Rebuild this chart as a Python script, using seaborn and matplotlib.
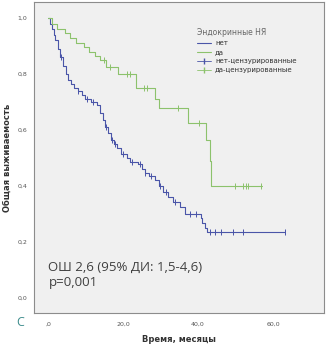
import numpy as np
import pandas as pd
import matplotlib
matplotlib.use("Agg")
import matplotlib.pyplot as plt
import seaborn as sns
from matplotlib.lines import Line2D

# ---- data ----
group_labels = ["нет", "да"]
no_times = [0, 0.5, 1, 1.5, 2, 2.7, 3.3, 4, 4.7, 5.3, 6.2, 7, 8, 9, 10, 11.5, 13, 13.9,
            14.6, 15.3, 16, 16.7, 17.5, 18.5, 19.5, 21, 22, 24, 25, 25.8, 27, 28.5, 29.5,
            30.7, 32, 33.3, 35.2, 36.5, 40.8, 41.2, 41.9, 42.4, 63.2]
no_surv = [1.0, 0.98, 0.96, 0.94, 0.92, 0.89, 0.86, 0.83, 0.80, 0.78, 0.765, 0.75, 0.74,
           0.725, 0.71, 0.70, 0.69, 0.66, 0.635, 0.61, 0.59, 0.565, 0.55, 0.535, 0.515,
           0.50, 0.487, 0.478, 0.46, 0.446, 0.435, 0.42, 0.40, 0.38, 0.36, 0.343, 0.325,
           0.30, 0.285, 0.268, 0.25, 0.236, 0.236]
no_cens = [3.5, 8, 10.5, 12, 15.5, 17, 18, 20, 22.5, 24.5, 26, 27.5, 30, 31.5, 34, 38,
           39.5, 43.2, 44.5, 46.1, 49.3, 52, 63.2]

yes_times = [0, 1.2, 2.5, 4.5, 6, 7.5, 9.5, 11, 12.5, 14, 15.5, 18.7, 23.6, 28.6, 29.5,
             37.3, 42.1, 43.2, 43.6, 57]
yes_surv = [1.0, 0.98, 0.96, 0.945, 0.93, 0.91, 0.895, 0.88, 0.865, 0.85, 0.825, 0.80,
            0.75, 0.71, 0.68, 0.625, 0.565, 0.49, 0.40, 0.40]
yes_cens = [15, 16.5, 21, 22, 25.5, 26.5, 34.7, 40.2, 49.9, 52, 52.8, 53.3, 56.8]

x_ticks = [0, 20, 40, 60]
x_tick_labels = [",0", "20,0", "40,0", "60,0"]
y_ticks = [0.0, 0.2, 0.4, 0.6, 0.8, 1.0]
y_tick_labels = ["0,0", "0,2", "0,4", "0,6", "0,8", "1,0"]

colors = {"нет": "#4a55a8", "да": "#8cc26c"}

curves = pd.concat([
    pd.DataFrame({"t": no_times, "s": no_surv, "g": "нет"}),
    pd.DataFrame({"t": yes_times, "s": yes_surv, "g": "да"}),
])

def cens_df(times, st, ss, g):
    st = np.asarray(st); ss = np.asarray(ss)
    idx = np.searchsorted(st, times, side="right") - 1
    return pd.DataFrame({"t": times, "s": ss[idx], "g": g})

cens = pd.concat([cens_df(no_cens, no_times, no_surv, "нет"),
                  cens_df(yes_cens, yes_times, yes_surv, "да")])

# ---- figure ----
sns.set_style("white")
plt.rcParams["font.family"] = ["DejaVu Sans"]
fig = plt.figure(figsize=(3.26, 3.47), dpi=100)
ax = fig.add_axes([34/326, (347-313)/347, 290/326, 311/347])
ax.set_facecolor("#f0f0f0")

for g in group_labels:
    d = curves[curves.g == g]
    sns.lineplot(data=d, x="t", y="s", ax=ax, color=colors[g], lw=0.8,
                 drawstyle="steps-post", estimator=None, sort=False, legend=False)
    c = cens[cens.g == g]
    sns.scatterplot(data=c, x="t", y="s", ax=ax, color=colors[g], marker="|",
                    s=14, linewidth=0.7, legend=False)

ax.set_xlim(-3.73, 73.6)
ax.set_ylim(-0.054, 1.057)
ax.set_xticks(x_ticks)
ax.set_xticklabels(x_tick_labels)
ax.set_yticks(y_ticks)
ax.set_yticklabels(y_tick_labels)
ax.tick_params(axis="both", labelsize=4.5, colors="#555555", length=3, width=0.6,
               direction="out", pad=2)
ax.tick_params(axis="x", length=4)
for sp in ax.spines.values():
    sp.set_color("#8c8c8c")
    sp.set_linewidth(0.8)

ax.set_xlabel("Время, месяцы", fontsize=6, fontweight="bold", color="#333333", labelpad=6)
ax.set_ylabel("Общая выживаемость", fontsize=6, fontweight="bold", color="#333333", labelpad=4)

# legend
handles = [
    Line2D([0], [0], color=colors["нет"], lw=0.8, drawstyle="steps-post"),
    Line2D([0], [0], color=colors["да"], lw=0.8, drawstyle="steps-post"),
    Line2D([0], [0], color=colors["нет"], lw=0.6, marker="|", markersize=4),
    Line2D([0], [0], color=colors["да"], lw=0.6, marker="|", markersize=4),
]
labels = ["нет", "да", "нет-цензурированные", "да-цензурированные"]
leg = ax.legend(handles, labels, title="Эндокринные НЯ", loc="upper left",
                bbox_to_anchor=(0.54, 0.935), frameon=False, fontsize=5.0,
                title_fontsize=5.5, handlelength=2.0, handletextpad=0.6,
                labelspacing=0.42, alignment="left")
leg.get_title().set_color("#666666")
for t in leg.get_texts():
    t.set_color("#333333")

ax.text(0.05, 0.122, "ОШ 2,6 (95% ДИ: 1,5-4,6)\np=0,001", transform=ax.transAxes,
        fontsize=9.5, color="#404040", family="Open Sans", linespacing=1.15,
        va="center", ha="left")

fig.text(20/326, 1 - 322/347, "C", fontsize=9, color="#3d8c8c", family="Open Sans",
         ha="center", va="center")

fig.savefig("out.png", dpi=100, facecolor="white")
